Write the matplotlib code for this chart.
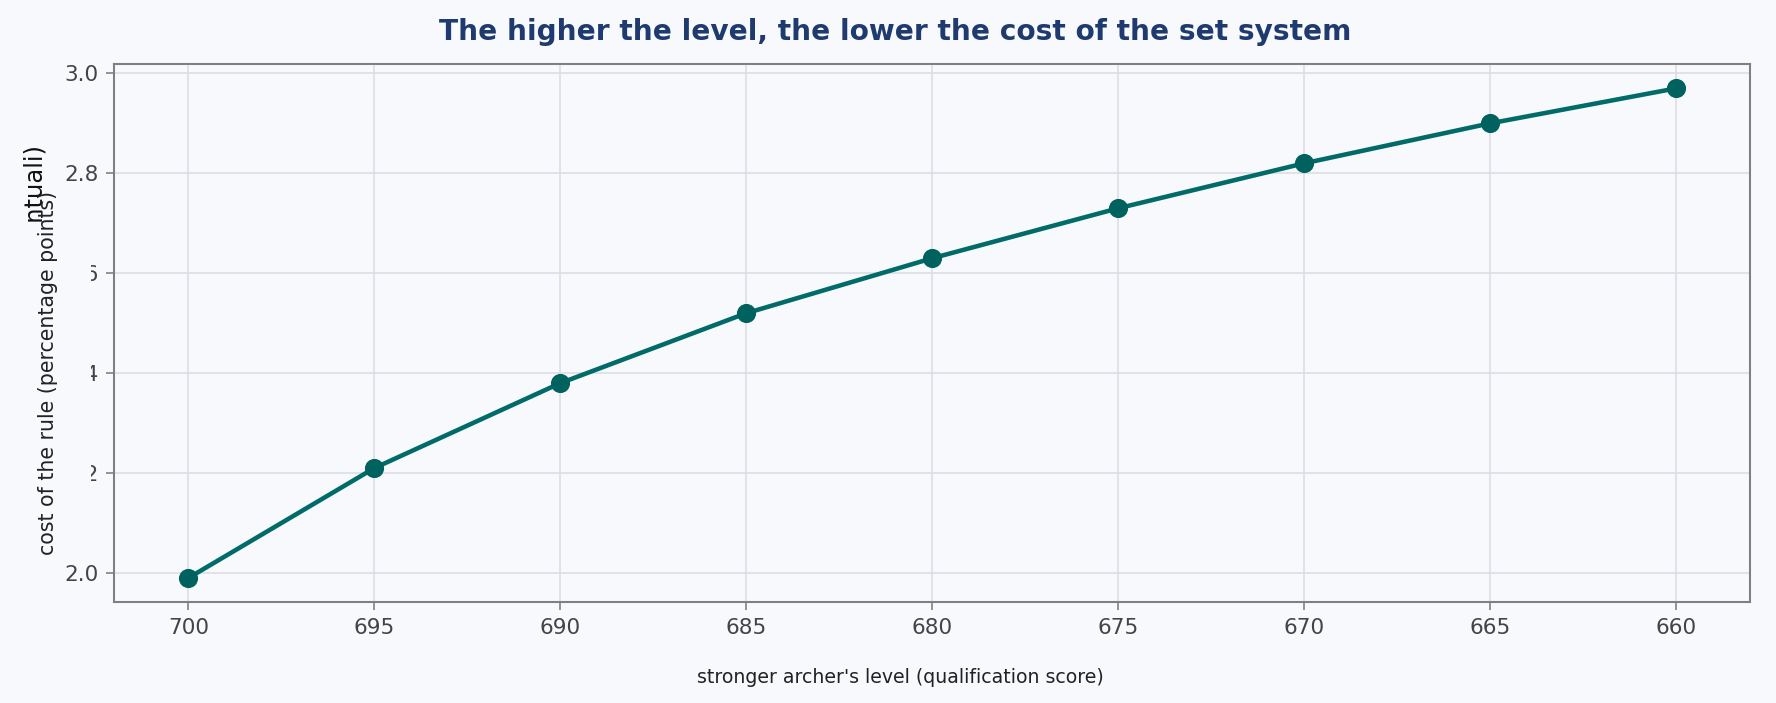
import numpy as np
import matplotlib
matplotlib.use('Agg')
from matplotlib import pyplot as plt
from matplotlib.patches import Rectangle

bg = '#f7f9fc'
line_color = '#006b68'

# qualification score of the stronger archer, and cost of the set system
levels = [700, 695, 690, 685, 680, 675, 670, 665, 660]
cost = [1.99, 2.21, 2.38, 2.52, 2.63, 2.73, 2.82, 2.90, 2.97]

title = 'The higher the level, the lower the cost of the set system'
xlabel = "stronger archer's level (qualification score)"
ylabel = 'cost of the rule (percentage points)'
ylabel_old = 'costo (punti percentuali)'

fig = plt.figure(figsize=(12, 4.75), dpi=148, facecolor=bg)
ax = fig.add_axes([0.0642, 0.143, 0.9212, 0.766])
ax.set_facecolor(bg)

ax.plot(levels, cost, color=line_color, lw=2.2, marker='o', markersize=8.3,
        markerfacecolor='#00625f', markeredgecolor='#00625f', zorder=3)
ax.invert_xaxis()
ax.set_xticks(levels)
ax.set_yticks([2.0, 2.2, 2.4, 2.6, 2.8, 3.0])
ax.yaxis.set_major_formatter(matplotlib.ticker.FormatStrFormatter('%.1f'))

ax.grid(True, color='#dcdde3', lw=0.8)
ax.set_axisbelow(True)
for s in ax.spines.values():
    s.set_color('#808080')
    s.set_linewidth(1.0)
ax.tick_params(labelsize=10.5, colors='#808080', labelcolor='#444444', length=4)

ax.set_xlabel(xlabel, fontsize=9.2, color='#222222')
ax.xaxis.set_label_coords(0.4804, -0.14)
ax.xaxis.label.set_va('center')

# old label, partly hidden below the new one
fig.text(0.0203, 0.7937, ylabel_old, rotation=90, fontsize=11.8, color='#111111',
         ha='center', va='top')

cover = Rectangle((0.0113, 0.2063), 0.0399, 0.4777, transform=fig.transFigure,
                  facecolor=bg, edgecolor='none', zorder=5)
fig.add_artist(cover)
fig.text(0.0273, 0.4694, ylabel, rotation=90, fontsize=10, color='#222222',
         ha='center', va='center', zorder=6)

fig.text(0.5043, 0.955, title, fontsize=13.6, fontweight='bold', color='#1f3a6e',
         ha='center', va='center')

plt.savefig('out.png', dpi=148, facecolor=bg)
plt.close('all')
